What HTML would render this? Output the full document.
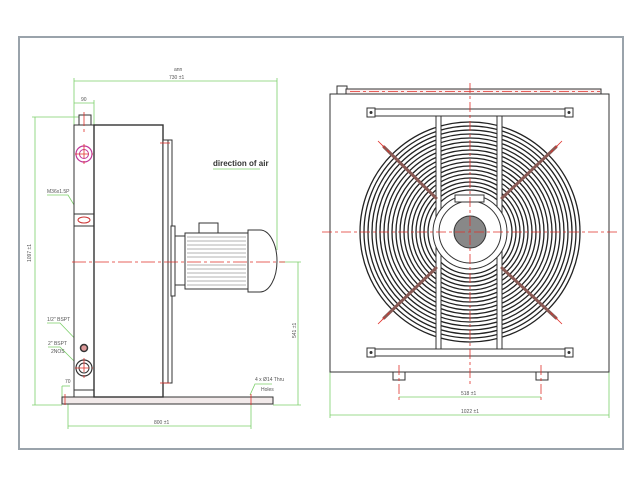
<!DOCTYPE html>
<html><head><style>
html,body{margin:0;padding:0;background:#fff;}
svg{display:block;}
text{font-family:"Liberation Sans",sans-serif;}
</style></head><body>
<svg width="640" height="486" viewBox="0 0 640 486" xmlns="http://www.w3.org/2000/svg">
<rect x="19" y="37" width="604" height="412" fill="none" stroke="#9aa3ab" stroke-width="2"/>
<!-- LEFT VIEW dims -->
<g stroke="#7ccf6a" stroke-width="0.8" fill="none">
<line x1="74" y1="81" x2="277" y2="81"/>
<line x1="74" y1="78" x2="74" y2="125"/>
<line x1="277" y1="78" x2="277" y2="250"/>
<line x1="74" y1="103" x2="94" y2="103"/>
<line x1="94" y1="100" x2="94" y2="125"/>
<line x1="35" y1="117" x2="35" y2="405"/>
<line x1="32" y1="117" x2="80" y2="117"/>
<line x1="32" y1="405" x2="62" y2="405"/>
<line x1="298" y1="262" x2="298" y2="405"/>
<line x1="280" y1="262" x2="301" y2="262"/>
<line x1="273" y1="405" x2="301" y2="405"/>
<line x1="68" y1="426" x2="251" y2="426"/>
<line x1="68" y1="400" x2="68" y2="429"/>
<line x1="251" y1="400" x2="251" y2="429"/>
<line x1="62" y1="386" x2="62" y2="397"/>
<line x1="62" y1="386" x2="70" y2="386"/>
<line x1="213" y1="169" x2="260" y2="169"/>
<polyline points="47,195 68,195 82,218"/>
<polyline points="47,323 60,323 82,346"/>
<polyline points="48,347 60,347 78,365"/>
<polyline points="250,395 255,384 272,384"/>
</g>
<g font-size="5" fill="#555">
<text x="174" y="71">ann</text>
<text x="169" y="79">730 ±1</text>
<text x="81" y="101">90</text>
<text x="47" y="193">M36x1.5P</text>
<text x="47" y="321">1/2" BSPT</text>
<text x="48" y="345">2" BSPT</text>
<text x="51" y="353">2NOS</text>
<text x="65" y="383">70</text>
<text x="255" y="381">4 x Ø14 Thru</text>
<text x="261" y="391">Holes</text>
<text x="154" y="424">800 ±1</text>
<text x="31" y="262" transform="rotate(-90 31 262)">1097 ±1</text>
<text x="296" y="338" transform="rotate(-90 296 338)">541 ±1</text>
<text x="461" y="395">518 ±1</text>
<text x="461" y="413">1022 ±1</text>
</g>
<text x="213" y="166" font-size="8" fill="#333" font-weight="bold">direction of air</text>
<!-- left geometry -->
<g stroke="#333" stroke-width="1" fill="#fff">
<rect x="62" y="397" width="211" height="7" fill="#f2eaea"/>
<rect x="79" y="115" width="12" height="11"/>
<rect x="74" y="125" width="20" height="272"/>
<line x1="74" y1="390" x2="94" y2="390"/>
<line x1="74" y1="214" x2="94" y2="214"/><line x1="74" y1="226" x2="94" y2="226"/>
<rect x="94" y="125" width="69" height="272" stroke-width="1.4"/>
<rect x="163" y="140" width="5" height="243"/>
<rect x="168" y="140" width="4" height="243"/>
<rect x="171" y="226" width="4" height="70"/>
<rect x="175" y="236" width="10" height="49"/>
<rect x="199" y="223" width="19" height="10"/>
<rect x="185" y="233" width="63" height="56"/>
<path d="M248,230 h12 a17,31 0 0 1 0,62 h-12 z"/>
</g>
<g stroke="#666" stroke-width="0.5">
<line x1="187" y1="237" x2="246" y2="237"/><line x1="187" y1="241" x2="246" y2="241"/><line x1="187" y1="245" x2="246" y2="245"/><line x1="187" y1="249" x2="246" y2="249"/><line x1="187" y1="253" x2="246" y2="253"/><line x1="187" y1="257" x2="246" y2="257"/><line x1="187" y1="265" x2="246" y2="265"/><line x1="187" y1="269" x2="246" y2="269"/><line x1="187" y1="273" x2="246" y2="273"/><line x1="187" y1="277" x2="246" y2="277"/><line x1="187" y1="281" x2="246" y2="281"/><line x1="187" y1="285" x2="246" y2="285"/>
</g>
<g fill="none">
<circle cx="84" cy="154" r="8" stroke="#c3389a" stroke-width="1.2"/>
<circle cx="84" cy="154" r="4.5" stroke="#c3389a" stroke-width="1"/>
<ellipse cx="84" cy="220" rx="6" ry="3" stroke="#c33" stroke-width="1"/>
<circle cx="84" cy="348" r="3.5" stroke="#333" stroke-width="1.5" fill="#d99"/>
<circle cx="84" cy="368" r="8" stroke="#333" stroke-width="1.2"/>
<circle cx="84" cy="368" r="5" stroke="#333" stroke-width="1"/>
</g>
<g stroke="#e0302a" stroke-width="0.8" fill="none" stroke-dasharray="14 3 3 3">
<line x1="72" y1="262" x2="285" y2="262"/>
<line x1="84" y1="112" x2="84" y2="132"/>
<line x1="75" y1="154" x2="93" y2="154"/><line x1="84" y1="144" x2="84" y2="164"/>
<line x1="75" y1="368" x2="93" y2="368"/><line x1="84" y1="358" x2="84" y2="378"/>
<line x1="65" y1="394" x2="65" y2="405"/><line x1="251" y1="394" x2="251" y2="405"/>
<line x1="160" y1="143" x2="170" y2="143"/><line x1="160" y1="383" x2="170" y2="383"/>
</g>
<!-- RIGHT VIEW -->
<g stroke="#7ccf6a" stroke-width="0.8" fill="none">
<line x1="399" y1="397" x2="541" y2="397"/>
<line x1="330" y1="415" x2="609" y2="415"/>
<line x1="330" y1="372" x2="330" y2="418"/><line x1="609" y1="372" x2="609" y2="418"/>
</g>
<g stroke="#333" stroke-width="1" fill="#fff">
<rect x="337" y="86" width="10" height="8"/>
<rect x="346" y="89" width="255" height="5" fill="#fbeeee"/>
<rect x="330" y="94" width="279" height="278"/>
<rect x="393" y="372" width="12" height="8"/>
<rect x="536" y="372" width="12" height="8"/>
</g>
<g fill="none" stroke="#222" stroke-width="1.3">
<circle cx="470" cy="232" r="110"/><circle cx="470" cy="232" r="106"/><circle cx="470" cy="232" r="102"/><circle cx="470" cy="232" r="98"/><circle cx="470" cy="232" r="94"/><circle cx="470" cy="232" r="90"/><circle cx="470" cy="232" r="86"/><circle cx="470" cy="232" r="82"/><circle cx="470" cy="232" r="78"/><circle cx="470" cy="232" r="74"/><circle cx="470" cy="232" r="70"/><circle cx="470" cy="232" r="66"/><circle cx="470" cy="232" r="62"/><circle cx="470" cy="232" r="58"/><circle cx="470" cy="232" r="54"/><circle cx="470" cy="232" r="50"/><circle cx="470" cy="232" r="46"/><circle cx="470" cy="232" r="42"/>
</g>
<g stroke="#333" stroke-width="1" fill="#fff">
<rect x="436" y="116" width="5" height="234"/>
<rect x="497" y="116" width="5" height="234"/>
<circle cx="470" cy="232" r="37"/>
<circle cx="470" cy="232" r="31"/>
<rect x="455" y="195" width="29" height="7"/>
<rect x="367" y="108" width="8" height="9"/><rect x="375" y="109" width="190" height="7"/><rect x="565" y="108" width="8" height="9"/>
<rect x="367" y="348" width="8" height="9"/><rect x="375" y="349" width="190" height="7"/><rect x="565" y="348" width="8" height="9"/>
</g>
<circle cx="470" cy="232" r="16" fill="#888" stroke="#333"/>
<g fill="#333"><circle cx="371" cy="112.5" r="1.5"/><circle cx="569" cy="112.5" r="1.5"/><circle cx="371" cy="352.5" r="1.5"/><circle cx="569" cy="352.5" r="1.5"/></g>
<g stroke="#8a5a55" stroke-width="3" stroke-linecap="round">
<line x1="384" y1="147" x2="436" y2="198"/><line x1="556" y1="147" x2="502" y2="198"/>
<line x1="384" y1="318" x2="436" y2="268"/><line x1="556" y1="318" x2="502" y2="268"/>
</g>
<g stroke="#e0302a" stroke-width="0.8" fill="none" stroke-dasharray="10 3 3 3">
<line x1="322" y1="232" x2="617" y2="232"/>
<line x1="470" y1="83" x2="470" y2="385"/>
<line x1="350" y1="91.5" x2="600" y2="91.5"/>
<line x1="399" y1="365" x2="399" y2="400"/><line x1="541" y1="365" x2="541" y2="400"/>
<line x1="378" y1="141" x2="390" y2="153"/><line x1="562" y1="141" x2="550" y2="153"/>
<line x1="378" y1="324" x2="390" y2="312"/><line x1="562" y1="324" x2="550" y2="312"/>
</g>
</svg>
</body></html>
